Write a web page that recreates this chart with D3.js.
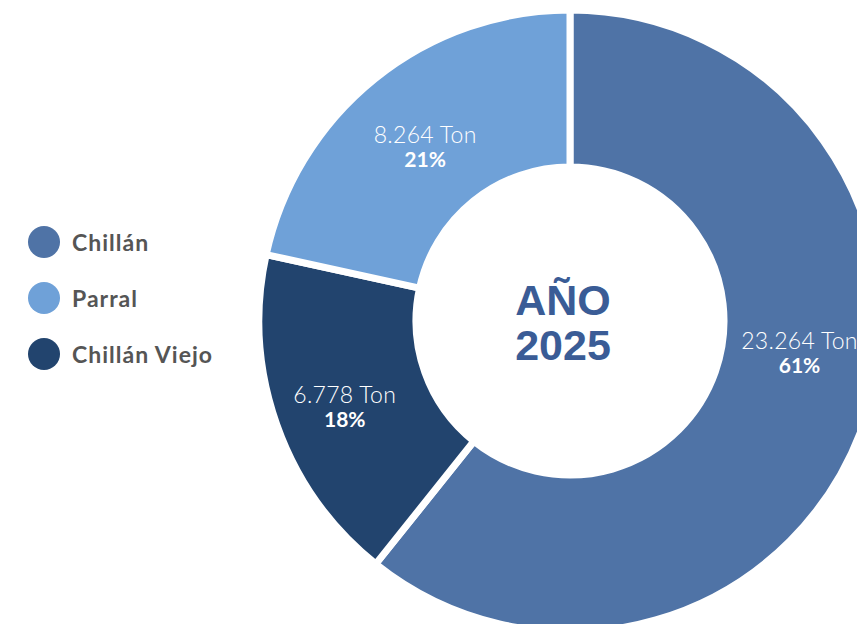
<!DOCTYPE html>
<html><head><meta charset="utf-8">
<script src="https://cdn.jsdelivr.net/npm/d3@7"></script>
<style>html,body{margin:0;padding:0;background:#fff;overflow:hidden}</style>
</head><body><svg id="c" width="857" height="624"></svg>
<script>
const categories = ["Chillán", "Chillán Viejo", "Parral"];
const values = [23264, 6778, 8264];
const percentLabels = ["61%", "18%", "21%"];
const valueLabels = ["23.264 Ton", "6.778 Ton", "8.264 Ton"];
const colors = ["#4F73A6", "#22446E", "#6FA1D8"];
const legendOrder = ["Chillán", "Parral", "Chillán Viejo"];
const centerLines = ["AÑO", "2025"];

const svg = d3.select("#c");
const cx = 570, cy = 321, rOuter = 311, rInner = 154;
const color = d3.scaleOrdinal().domain(categories).range(colors);
const pie = d3.pie().sort(null).value(d => d.v);
const data = categories.map((c, i) => ({c, v: values[i], pct: percentLabels[i], lab: valueLabels[i]}));
const arcs = pie(data);
const arc = d3.arc().innerRadius(rInner).outerRadius(rOuter);
const g = svg.append("g").attr("transform", `translate(${cx},${cy})`);
g.selectAll("path").data(arcs).join("path")
  .attr("d", arc).attr("fill", d => color(d.data.c))
  .attr("stroke", "#fff").attr("stroke-width", 7).attr("stroke-linejoin", "miter");

const lab = g.selectAll("g.lab").data(arcs).join("g").attr("class", "lab")
  .attr("transform", d => {
    let a = (d.startAngle + d.endAngle) / 2;
    if (d.index === 0) a = Math.min(a, 96.5 * Math.PI / 180);
    const r = d.index === 1 ? 239 : 231;
    return `translate(${r * Math.sin(a)},${-r * Math.cos(a)})`;
  });
lab.append("text").attr("text-anchor", "middle").attr("y", 2)
  .attr("font-family", "Lato").attr("font-weight", 300).attr("font-size", 23)
  .attr("letter-spacing", 0.3)
  .attr("fill", "#fff").text(d => d.data.lab);
lab.append("text").attr("text-anchor", "middle").attr("y", 26)
  .attr("font-family", "Lato").attr("font-weight", 700).attr("font-size", 21)
  .attr("fill", "#fff").text(d => d.data.pct);

g.selectAll("text.center").data(centerLines).join("text").attr("class", "center")
  .attr("text-anchor", "middle").attr("x", -7).attr("y", (d, i) => -6 + i * 45)
  .attr("font-family", "Liberation Sans, Arial").attr("font-weight", 700).attr("font-size", 43)
  .attr("fill", "#3A5C96").text(d => d);

const leg = svg.append("g").selectAll("g").data(legendOrder).join("g")
  .attr("transform", (d, i) => `translate(44,${242 + i * 56})`);
leg.append("circle").attr("r", 16).attr("fill", d => color(d));
leg.append("text").attr("x", 28).attr("y", 9)
  .attr("font-family", "Lato").attr("font-weight", 700).attr("font-size", 23)
  .attr("letter-spacing", 1)
  .attr("fill", "#555").text(d => d);
</script></body></html>
